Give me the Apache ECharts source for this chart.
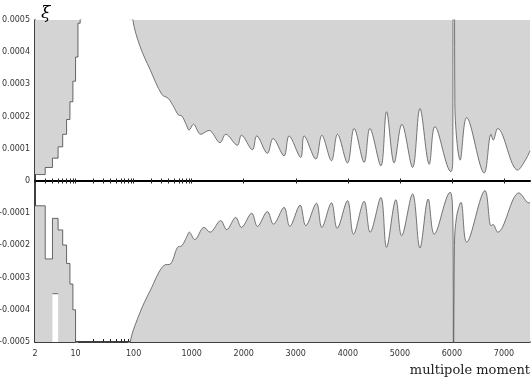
<!DOCTYPE html>
<html>
<head>
<meta charset="utf-8">
<script src="https://cdn.jsdelivr.net/npm/echarts@6/dist/echarts.min.js"></script>
<style>
  html, body { margin: 0; padding: 0; background: #fff; }
  #chart { width: 532px; height: 378px; }
</style>
</head>
<body>
<div id="chart"></div>
<script>
// multipole moments and xi values
const upperStepL = [2, 3, 4, 5, 6, 7, 8, 9, 10, 11, 12, 13];
const upperStepV = [2.0e-5, 4.2e-5, 7.1e-5, 1.06e-4, 1.45e-4, 1.91e-4, 2.46e-4, 3.1e-4, 3.85e-4, 4.9e-4, 8e-4, 8e-4];

const upperL = [85, 97, 129, 192, 306, 397, 484, 591, 676, 802, 903, 1033, 1173, 1333, 1545, 1654, 1878, 1955,
  2167, 2250, 2455, 2563, 2775, 2871, 3096, 3160, 3385, 3500, 3686, 3801, 3994, 4121, 4314, 4423, 4635, 4744,
  4890, 5038, 5244, 5385, 5564, 5673, 5981, 6016, 6026, 6044, 6056, 6160, 6283, 6620, 6750, 6794, 6879, 7263, 7423, 7500];
const upperV = [6.5e-4, 5.0e-4, 4.18e-4, 3.46e-4, 2.69e-4, 2.56e-4, 2.32e-4, 2.05e-4, 2.02e-4, 1.76e-4, 1.58e-4, 1.76e-4, 1.45e-4, 1.57e-4, 1.19e-4, 1.45e-4, 1.11e-4, 1.42e-4,
  9.7e-5, 1.40e-4, 8.6e-5, 1.32e-4, 7.8e-5, 1.40e-4, 7.3e-5, 1.40e-4, 6.8e-5, 1.42e-4, 6.3e-5, 1.45e-4, 5.6e-5, 1.63e-4, 5.8e-5, 1.63e-4, 4.7e-5, 2.15e-4,
  5.6e-5, 1.76e-4, 4.2e-5, 2.25e-4, 5.2e-5, 1.69e-4, 2.9e-5, 6e-5, 1.2e-3, 1.2e-3, 2.4e-4, 6.5e-5, 1.97e-4, 2.5e-5, 1.45e-4, 1.27e-4, 1.63e-4, 3.4e-5, 6.8e-5, 9.4e-5];

const lowerStepL = [2, 3, 4, 5, 6, 7, 8, 9, 10, 11];
const lowerStepV = [-7.7e-5, -2.42e-4, -1.16e-4, -1.52e-4, -1.99e-4, -2.56e-4, -3.2e-4, -4.0e-4, -8e-4, -8e-4];

const notchL = [4, 5];
const notchV = [-3.5e-4, -3.5e-4];

const lowerL = [80, 87, 129, 192, 339, 428, 570, 676, 815, 911, 1058, 1237, 1352, 1558, 1673, 1846, 1955, 2154, 2263,
  2455, 2571, 2775, 2885, 3083, 3192, 3398, 3500, 3686, 3795, 3994, 4109, 4314, 4429, 4635, 4744, 4923, 5033,
  5244, 5385, 5544, 5660, 5968, 6008, 6024, 6030, 6040, 6048, 6090, 6173, 6283, 6635, 6750, 6790, 6879, 7288, 7449, 7500];
const lowerV = [-6.0e-4, -5.0e-4, -4.08e-4, -3.41e-4, -2.61e-4, -2.58e-4, -2.06e-4, -2.01e-4, -1.75e-4, -1.59e-4, -1.82e-4, -1.44e-4, -1.59e-4, -1.23e-4, -1.51e-4, -1.13e-4, -1.44e-4, -1.0e-4, -1.41e-4,
  -9.5e-5, -1.34e-4, -8.2e-5, -1.41e-4, -7.5e-5, -1.39e-4, -6.9e-5, -1.44e-4, -6.8e-5, -1.47e-4, -6.1e-5, -1.65e-4, -6.3e-5, -1.59e-4, -5.1e-5, -2.06e-4, -5.8e-5, -1.70e-4,
  -4.0e-5, -2.08e-4, -5.6e-5, -1.65e-4, -3.5e-5, -7e-5, -2.5e-4, -9e-4, -9e-4, -2.0e-4, -1.1e-4, -6.6e-5, -1.9e-4, -3.0e-5, -1.39e-4, -1.35e-4, -1.59e-4, -3.7e-5, -6.6e-5, -6.8e-5];

const tickL = [2, 3, 4, 5, 6, 7, 8, 9, 10, 20, 30, 40, 50, 60, 70, 80, 90, 100,
  200, 300, 400, 500, 600, 700, 800, 900, 1000, 2000, 3000, 4000, 5000, 6000, 7000];
const labelL = [2, 10, 100, 1000, 2000, 3000, 4000, 5000, 6000, 7000];

// log scale up to 1000, linear above it
const LIN = 52 / 58;
function toU(l) {
  return l <= 1000 ? Math.log10(l) : 3 + (l - 1000) / 1000 * LIN;
}
function pairs(ls, vs) {
  return ls.map((l, i) => [toU(l), vs[i]]);
}

const U_MIN = toU(2), U_MAX = toU(7500);
const tickU = tickL.map(toU);
const labelU = labelL.map(toU);

const FILL = '#d4d4d4';
const EDGE = '#555';
const labelFont = { fontSize: 8, color: '#333', fontFamily: 'DejaVu Sans' };

function xLabel(v) {
  const i = labelU.findIndex(u => Math.abs(u - v) < 1e-6);
  return i >= 0 ? String(labelL[i]) : '';
}

const chart = echarts.init(document.getElementById('chart'));
chart.setOption({
  animation: false,
  title: [
    { text: 'ξ', left: 36, top: 0, textStyle: { fontFamily: 'DejaVu Serif', fontStyle: 'italic', fontWeight: 'normal', fontSize: 17, color: '#000' } },
    { text: 'multipole moment', right: -3, bottom: -4, textStyle: { fontFamily: 'DejaVu Serif', fontWeight: 'normal', fontSize: 13, color: '#222' } }
  ],
  grid: { left: 35, right: 2, top: 20, bottom: 36, containLabel: false, outerBoundsMode: 'none' },
  xAxis: [
    {
      type: 'value', min: U_MIN, max: U_MAX, position: 'bottom',
      axisLine: { onZero: false, lineStyle: { color: '#000', width: 1.5 } },
      axisTick: { inside: true, length: 3, customValues: tickU, lineStyle: { color: '#222' } },
      axisLabel: Object.assign({ customValues: labelU, formatter: xLabel, margin: 8 }, labelFont),
      splitLine: { show: false }
    },
    {
      type: 'value', min: U_MIN, max: U_MAX, position: 'top',
      axisLine: { onZero: true, onZeroAxisIndex: 0, lineStyle: { color: '#000', width: 2 } },
      axisTick: { inside: false, length: 2.5, customValues: tickU, lineStyle: { color: '#222' } },
      axisLabel: { show: false },
      splitLine: { show: false }
    },
    {
      type: 'value', min: U_MIN, max: U_MAX, position: 'top',
      axisLine: { onZero: true, onZeroAxisIndex: 0, show: false },
      axisTick: { inside: true, length: 2.5, customValues: tickU, lineStyle: { color: '#222' } },
      axisLabel: { show: false },
      splitLine: { show: false }
    }
  ],
  yAxis: {
    type: 'value', min: -0.0005, max: 0.0005, interval: 0.0001,
    axisLine: { show: true, onZero: false, lineStyle: { color: '#000', width: 1.5 } },
    axisTick: { show: false },
    axisLabel: Object.assign({
      margin: 5,
      formatter: v => Math.abs(v) < 1e-9 ? '0' : v.toFixed(4)
    }, labelFont),
    splitLine: { show: false }
  },
  series: [
    {
      type: 'line', step: 'end', data: pairs(upperStepL, upperStepV), symbol: 'none',
      lineStyle: { color: '#444', width: 0.8 }, areaStyle: { color: FILL, opacity: 1, origin: 'end' }
    },
    {
      type: 'line', smooth: 0.35, data: pairs(upperL, upperV), symbol: 'none',
      lineStyle: { color: EDGE, width: 0.8 }, areaStyle: { color: FILL, opacity: 1, origin: 'end' }
    },
    {
      type: 'line', step: 'end', data: pairs(lowerStepL, lowerStepV), symbol: 'none',
      lineStyle: { color: '#444', width: 0.8 }, areaStyle: { color: FILL, opacity: 1, origin: 'start' }
    },
    {
      type: 'line', step: 'end', data: pairs(notchL, notchV), symbol: 'none',
      lineStyle: { color: '#444', width: 0.8 }, areaStyle: { color: '#fff', opacity: 1, origin: 'start' }
    },
    {
      type: 'line', smooth: 0.35, data: pairs(lowerL, lowerV), symbol: 'none',
      lineStyle: { color: EDGE, width: 0.8 }, areaStyle: { color: FILL, opacity: 1, origin: 'start' }
    }
  ]
});
</script>
</body>
</html>
